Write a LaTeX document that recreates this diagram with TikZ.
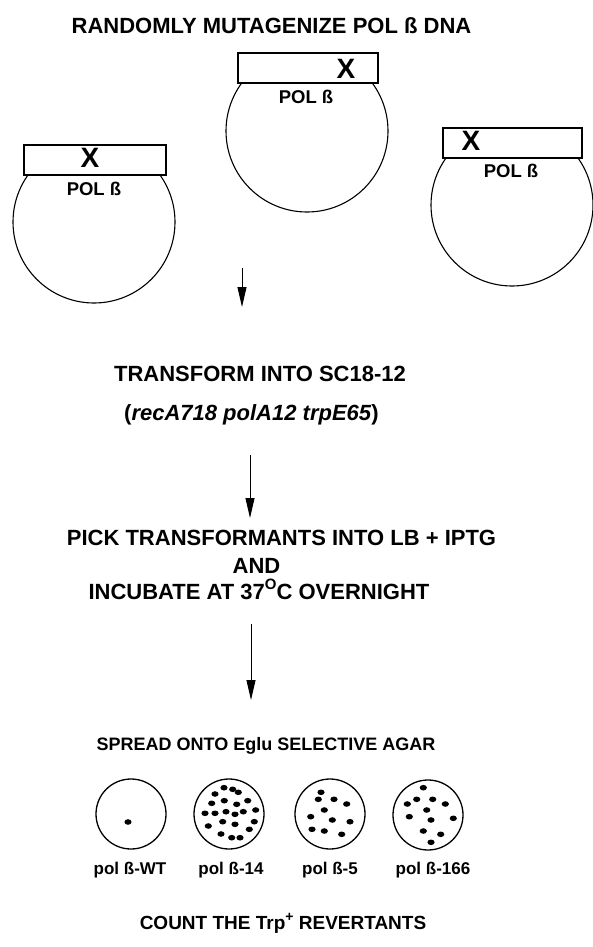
\documentclass[tikz,border=0pt]{standalone}
\usepackage{fontspec}
\setmainfont{Liberation Sans}
\usetikzlibrary{arrows.meta}
\begin{document}
\begin{tikzpicture}[x=1pt,y=-1pt,
  big/.style={font=\fontsize{22}{24}\selectfont\bfseries, anchor=base, inner sep=0pt},
  mid/.style={font=\fontsize{18}{20}\selectfont\bfseries, anchor=base, inner sep=0pt},
  lab/.style={font=\fontsize{17}{19}\selectfont\bfseries, anchor=base, inner sep=0pt},
  ring/.style={circle, draw, line width=1.1pt, minimum size=162pt, inner sep=0pt},
  gene/.style={rectangle, draw, fill=white, line width=1.3pt, minimum height=30pt, inner sep=0pt},
  xmark/.style={font=\fontsize{28}{28}\selectfont\bfseries, inner sep=0pt},
  pol/.style={font=\fontsize{18.5}{20}\selectfont\bfseries, inner sep=0pt},
  plate/.style={circle, draw, line width=1.3pt, minimum size=70pt, inner sep=0pt},
  arr/.style={line width=1pt, -{Triangle[length=20pt,width=9pt]}},
  colony/.style={fill=black}
]
\useasboundingbox (0,0) rectangle (592,947);

% title
\node[big] (title) at (271.5,34) {RANDOMLY MUTAGENIZE POL ß DNA};

% left plasmid
\begin{scope}
\clip (0,175) rectangle (220,330);
\node[ring] (c1) at (94,222) {};
\end{scope}
\node[gene, minimum width=142pt] (g1) at (95,160) {};
\node[xmark] (x1) at (90,158) {X};
\node[pol] (p1) at (94,188.5) {POL ß};

% middle plasmid
\begin{scope}
\clip (200,83) rectangle (420,230);
\node[ring] (c2) at (307,131) {};
\end{scope}
\node[gene, minimum width=140pt] (g2) at (308,68) {};
\node[xmark] (x2) at (346,68.5) {X};
\node[pol] (p2) at (306,97) {POL ß};

% right plasmid
\begin{scope}
\clip (420,158) rectangle (600,300);
\node[ring] (c3) at (512,205) {};
\end{scope}
\node[gene, minimum width=139pt] (g3) at (512.5,143) {};
\node[xmark] (x3) at (471,141) {X};
\node[pol] (p3) at (511,170.5) {POL ß};

% arrow 1
\coordinate (a1s) at (242,268);
\coordinate (a1e) at (242,307);
\draw[arr] (a1s) -- (a1e);

% transform
\node[big] (t1) at (260,381) {TRANSFORM INTO SC18-12};
\node[big] (t2) at (251.5,420) {(\textit{recA718 polA12 trpE65})};

% arrow 2
\coordinate (a2s) at (250,455);
\coordinate (a2e) at (250,518);
\draw[arr] (a2s) -- (a2e);

\node[big] (pick) at (281.5,545) {PICK TRANSFORMANTS INTO LB + IPTG};
\node[big] (and) at (256.5,573) {AND};
\node[big] (inc) at (259,599) {INCUBATE AT 37\raisebox{0.42em}{\fontsize{15}{15}\selectfont O}C OVERNIGHT};

% arrow 3
\coordinate (a3s) at (251,624);
\coordinate (a3e) at (251,700);
\draw[arr] (a3s) -- (a3e);

\node[mid] (spread) at (266,750) {SPREAD ONTO Eglu SELECTIVE AGAR};

% plates
\node[plate] (pl1) at (131,814) {};
\node[plate] (pl2) at (229,814) {};
\node[plate] (pl3) at (330,814) {};
\node[plate] (pl4) at (428,815) {};

\fill[colony] ([shift={(-3,8)}]pl1.center) ellipse (3.6 and 2.8);
\foreach \dx/\dy in {-5/-26.3, 3.7/-24.7, 9.3/-21.7, -14/-20, -4.7/-13.3, 7.7/-9.7,
  18.7/-13.3, -17.3/-10.7, -24/-0.7, -14/-0.7, -3/-2.3, 6/0.3, 14.3/-2.3, 26.7/-4,
  -6.3/7.7, 6/10.3, 25.3/7.7, -20.7/12, 20.3/15.3, -8/20, 2.7/23.7, 11/23.7}
  \fill[colony] ([shift={(\dx,\dy)}]pl2.center) ellipse (3.6 and 2.8);
\foreach \dx/\dy in {-9/-21.7, -11.7/-14.7, 4/-14.7, 16.7/-10, -5.7/-4, -19.3/2.7,
  2.3/6, 20/7.7, -18/15.3, -5.7/17, 11.7/20.3}
  \fill[colony] ([shift={(\dx,\dy)}]pl3.center) ellipse (3.6 and 2.8);
\foreach \dx/\dy in {-4.7/-27.3, -11.3/-15.7, 4.7/-15.7, 17.3/-11, -20.7/-11, -1.3/-5,
  -18.7/1.7, 3/5, 25.3/3.3, -4.7/16, 12.7/19.3, 3/27.3}
  \fill[colony] ([shift={(\dx,\dy)}]pl4.center) ellipse (3.6 and 2.8);

% labels
\node[lab] (l1) at (130,874) {pol ß-WT};
\node[lab] (l2) at (231,874) {pol ß-14};
\node[lab] (l3) at (330,874) {pol ß-5};
\node[lab] (l4) at (433,874) {pol ß-166};

\node[font=\fontsize{19}{21}\selectfont\bfseries, anchor=base, inner sep=0pt] (count) at (283,929)
  {COUNT THE Trp\raisebox{0.42em}{\fontsize{14}{14}\selectfont +} REVERTANTS};
\end{tikzpicture}
\end{document}
